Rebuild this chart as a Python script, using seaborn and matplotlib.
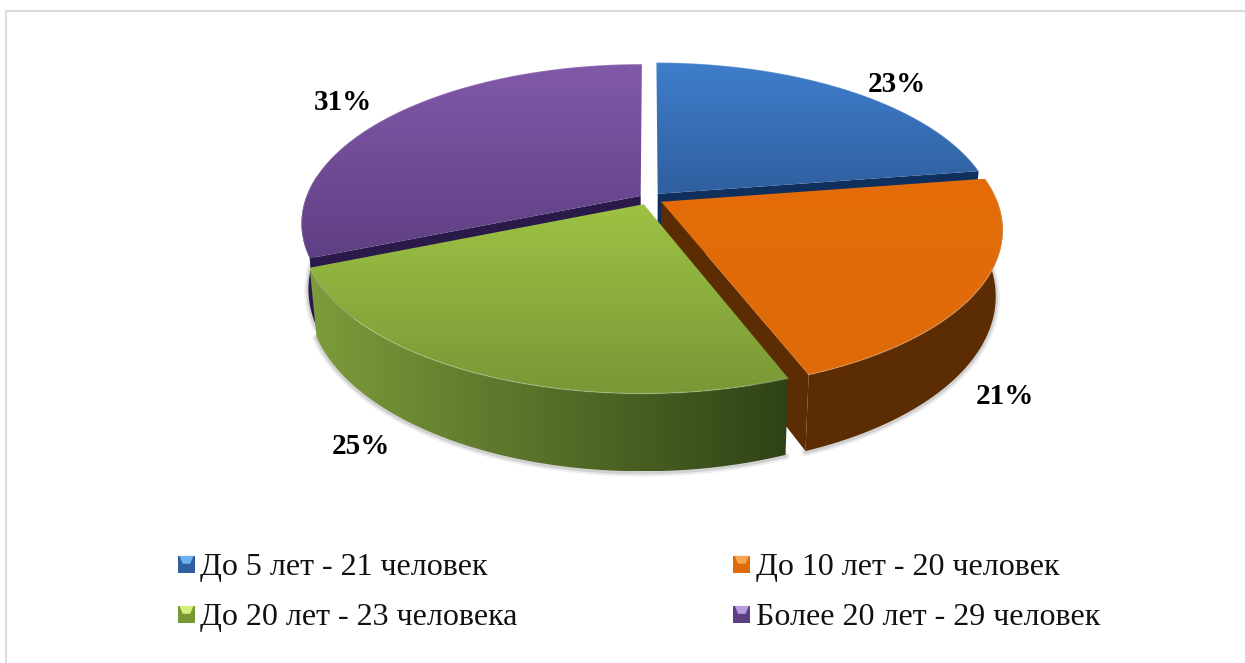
import numpy as np
import seaborn as sns
import matplotlib.pyplot as plt
from matplotlib.legend_handler import HandlerBase
from matplotlib.patches import Patch, PathPatch, Polygon, Rectangle
from matplotlib.path import Path

# data
labels = ["До 5 лет - 21 человек", "До 10 лет - 20 человек",
          "До 20 лет - 23 человека", "Более 20 лет - 29 человек"]
counts = [21, 20, 23, 29]
pct_labels = ["23%", "21%", "25%", "31%"]

# look of each slice: top of face, bottom of face, side left, side right, cut face
top_hi = ["#3f7ecb", "#e46d08", "#9dc244", "#8159a9"]
top_lo = ["#2f5f9f", "#de6a08", "#789836", "#5f3f84"]
side_l = ["#1c3f70", "#5c2c03", "#7d9c3b", "#2a1a4a"]
side_r = ["#1c3f70", "#5c2c03", "#2f4216", "#2a1a4a"]
cut_col = ["#0f2f5c", "#5c2c03", "#2f4216", "#2a1a4a"]
swatch_hi = ["#6fb0ee", "#f5a64f", "#d3ee7a", "#b79ae0"]
explode = [0.04, 0.042, 0.04, 0.03]
pct_pos = [(897, 84), (1005, 396), (361, 447), (343, 103)]

# how the flat pie is tilted on the page (pixels)
CX, CY = 649, 198.5
K = 0.17
A = 155
B = 335
DEPTH = 64

sns.set_theme(style="white")
plt.rcParams['font.family'] = ['Liberation Serif', 'DejaVu Serif']

fig = plt.figure(figsize=(12.45, 6.63), dpi=100)
ax = fig.add_axes([0, 0, 1, 1])
ax.set_xlim(0, 1245)
ax.set_ylim(663, 0)
ax.axis("off")
ax.set_autoscale_on(False)

# let matplotlib work out the slices, then tilt them by hand
pie_ax = fig.add_axes([0, 0, 0.1, 0.1])
wedges, _ = pie_ax.pie(counts, startangle=90, counterclock=False, explode=explode)
pie_ax.set_visible(False)

z = 1


def tilt(u, v):
    w = 1 + K * v
    return CX + B * u / w, CY - A * v / w


def drop(u, v):
    # same point on the lower face of the disc
    w = 1 + K * v
    px, py = tilt(u, v)
    return CX + (px - CX) * 0.98, py + DEPTH / w


def grad_fill(pts, c0, c1, vertical=True):
    global z
    z += 1
    pts = np.array(pts)
    cmap = sns.blend_palette([c0, c1], as_cmap=True)
    x0, x1 = pts[:, 0].min(), pts[:, 0].max()
    y0, y1 = pts[:, 1].min(), pts[:, 1].max()
    g = np.linspace(0, 1, 256)
    g = g[:, None] if vertical else g[None, :]
    im = ax.imshow(g, cmap=cmap, extent=(x0, x1, y1, y0), aspect="auto",
                   interpolation="bilinear", vmin=0, vmax=1, zorder=z)
    clip = PathPatch(Path(np.vstack([pts, pts[:1]]), closed=True), transform=ax.transData)
    im.set_clip_path(clip)


# drawing order as in the picture, back slices first
# index of the arc end whose cut face we can see, None if not seen
cut_end = {0: 0, 1: 0, 2: None, 3: -1}
for i in [3, 0, 1, 2]:
    w = wedges[i]
    cu, cv = w.center
    t = np.radians(np.linspace(w.theta1, w.theta2, 200))
    u = cu + w.r * np.cos(t)
    v = cv + w.r * np.sin(t)

    px, py = tilt(u, v)
    bx, by = drop(u, v)
    ax_, ay_ = tilt(cu, cv)
    adx, ady = drop(cu, cv)

    # soft shadow under the rim, front part only
    front = v < 0.15
    if front.any():
        z += 1
        for lw, a in [(6, 0.10), (3, 0.18)]:
            ax.plot(bx[front], by[front] + 1, color="#555555", lw=lw, alpha=a,
                    solid_capstyle="round", zorder=z)

        rim = np.vstack([np.column_stack([px[front], py[front]]),
                         np.column_stack([bx[front], by[front]])[::-1]])
        grad_fill(rim, side_l[i], side_r[i], vertical=False)

    # cut face along the slice edge that looks at us
    k = cut_end[i]
    if k is not None:
        z += 1
        cut = [(ax_, ay_), (px[k], py[k]), (bx[k], by[k]), (adx, ady)]
        ax.add_patch(Polygon(cut, closed=True, fc=cut_col[i], ec="none", zorder=z))

    face = np.vstack([[ax_, ay_], np.column_stack([px, py])])
    grad_fill(face, top_hi[i], top_lo[i])
    z += 1
    ax.plot(px, py, color="white", lw=1, alpha=0.2, zorder=z)

for i in range(4):
    ax.text(pct_pos[i][0], pct_pos[i][1], pct_labels[i], ha="center", va="center",
            fontsize=21, fontweight="bold", color="black", zorder=100)

# thin frame, only left and top are seen
ax.plot([5.5, 5.5, 1245], [663, 10.5, 10.5], color="#dcdcdc", lw=1.5)


class BevelHandler(HandlerBase):
    def create_artists(self, legend, orig, xd, yd, width, height, fontsize, trans):
        c = orig.get_facecolor()
        y0 = yd + 3
        body = Rectangle((xd, y0), width, height, fc=c, ec="none", transform=trans)
        hi = Polygon([(xd + 1, y0 + height), (xd + width - 1, y0 + height),
                      (xd + width * 0.72, y0 + height * 0.55),
                      (xd + width * 0.28, y0 + height * 0.55)], closed=True,
                     fc=orig.get_edgecolor(), ec="none", transform=trans)
        return [body, hi]


handles = [Patch(facecolor=top_lo[i], edgecolor=swatch_hi[i]) for i in range(4)]
# legend fills rows first in the picture: 1 2 / 3 4, matplotlib fills columns
order = [0, 2, 1, 3]
leg = ax.legend([handles[i] for i in order], [labels[i] for i in order],
                handler_map={Patch: BevelHandler()}, ncols=2,
                loc="upper left", bbox_to_anchor=(178, 553), bbox_transform=ax.transData,
                frameon=False, fontsize=23, borderpad=0, borderaxespad=0,
                handlelength=0.53, handleheight=0.47, handletextpad=0.17,
                columnspacing=6.75, labelspacing=0.66, labelcolor="#111111")
leg.set_zorder(100)

fig.savefig("out.png", dpi=100)
